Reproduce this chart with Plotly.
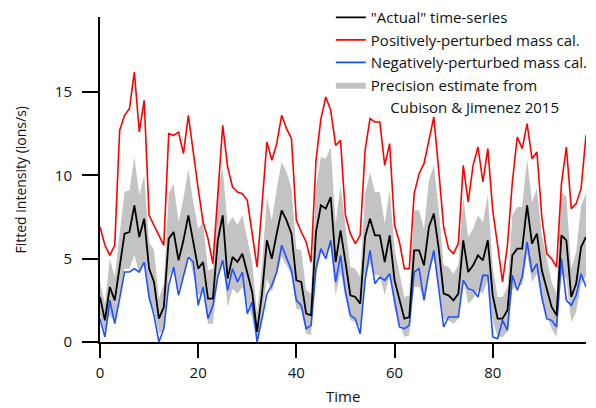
import plotly.graph_objects as go

time = list(range(100))

actual = [2.7, 1.3, 3.3, 2.5, 4.5, 6.5, 6.6, 8.2, 6.3, 7.4,
          4.4, 3.6, 1.4, 2.1, 6.2, 6.6, 4.9, 6.1, 7.6, 5.9,
          4.4, 4.8, 2.6, 2.6, 6.1, 7.6, 3.8, 5.1, 4.8, 5.3,
          4.1, 3.0, 0.6, 2.9, 6.1, 5.0, 6.5, 7.9, 7.3, 6.5,
          3.7, 3.6, 1.7, 1.6, 6.6, 8.2, 8.0, 8.7, 4.8, 6.7,
          4.8, 2.8, 2.7, 2.3, 6.3, 7.4, 6.4, 6.4, 4.8, 6.4,
          3.7, 2.5, 1.4, 1.5, 5.5, 5.5, 4.6, 6.9, 7.7, 5.6,
          2.9, 2.8, 2.5, 2.9, 6.1, 4.2, 4.6, 5.2, 4.9, 6.1,
          2.8, 1.4, 1.4, 1.9, 5.2, 5.6, 5.6, 8.2, 5.9, 6.5,
          4.3, 3.2, 2.1, 1.6, 6.4, 6.1, 2.7, 3.5, 5.7, 6.3]

positive = [6.9, 5.8, 5.2, 5.8, 12.7, 13.6, 14.0, 16.2, 12.6, 14.5,
            7.6, 7.0, 6.4, 5.8, 12.5, 12.4, 12.6, 11.3, 13.6, 11.3,
            9.2, 7.2, 6.2, 4.7, 9.0, 13.0, 10.5, 9.3, 9.0, 8.9,
            8.5, 6.6, 4.5, 8.2, 12.0, 10.9, 11.9, 13.6, 12.8, 12.2,
            7.3, 6.6, 6.0, 4.8, 10.9, 13.4, 14.7, 13.9, 11.8, 12.1,
            7.6, 6.5, 5.9, 6.4, 11.5, 13.4, 13.2, 13.2, 10.6, 11.9,
            7.0, 6.0, 4.4, 4.4, 8.9, 10.1, 10.7, 12.1, 13.5, 10.3,
            6.9, 5.6, 5.3, 5.9, 10.6, 8.4, 10.6, 11.7, 9.6, 11.6,
            7.9, 5.8, 3.6, 5.8, 9.6, 12.3, 11.6, 13.1, 11.0, 11.4,
            7.5, 5.3, 5.0, 4.5, 9.5, 11.7, 8.0, 8.3, 9.2, 12.4]

negative = [1.4, 0.3, 2.5, 1.1, 2.6, 4.2, 4.2, 4.4, 4.2, 4.8,
            2.7, 1.6, 0.0, 0.8, 3.4, 4.5, 2.8, 3.9, 5.1, 4.8,
            2.2, 3.3, 1.4, 2.2, 3.9, 4.9, 3.1, 4.4, 3.6, 4.2,
            1.7, 2.4, 0.0, 1.4, 2.9, 3.4, 4.2, 5.8, 5.1, 4.3,
            2.5, 2.2, 0.8, 1.0, 4.4, 5.6, 5.0, 6.1, 3.6, 5.2,
            3.0, 1.6, 1.4, 0.5, 3.7, 5.5, 3.5, 3.9, 3.7, 4.1,
            2.5, 0.9, 0.8, 1.0, 4.2, 4.4, 2.5, 4.2, 5.5, 3.2,
            0.9, 1.5, 1.5, 1.5, 3.7, 3.2, 3.1, 2.7, 4.0, 4.0,
            0.3, 0.2, 1.3, 0.7, 4.0, 3.1, 3.9, 6.0, 4.2, 4.7,
            2.7, 1.4, 1.3, 0.9, 5.0, 2.5, 2.2, 2.8, 4.1, 3.3]

band_upper = [3.6, 2.3, 5.0, 3.9, 6.5, 9.0, 9.1, 11.1, 8.8, 10.0,
              6.0, 5.5, 2.6, 3.5, 8.9, 9.5, 7.2, 8.6, 10.4, 8.4,
              6.8, 7.2, 4.3, 4.4, 9.3, 10.4, 7.0, 7.5, 7.0, 7.6,
              6.2, 4.8, 1.7, 4.6, 8.7, 7.3, 9.2, 10.8, 10.2, 9.2,
              5.6, 5.5, 3.1, 2.9, 9.3, 11.1, 11.0, 11.7, 7.1, 9.4,
              7.0, 4.5, 4.4, 3.9, 8.9, 10.2, 9.0, 9.0, 7.1, 9.1,
              5.6, 4.1, 2.7, 2.8, 7.9, 7.9, 6.8, 9.7, 10.6, 8.0,
              4.6, 4.5, 4.1, 4.6, 8.7, 6.3, 6.8, 7.6, 7.2, 8.8,
              4.5, 2.7, 2.7, 3.3, 7.6, 8.1, 8.1, 11.0, 8.4, 9.2,
              6.4, 5.0, 3.6, 2.9, 9.0, 8.7, 4.4, 5.4, 8.2, 8.9]

band_lower = [1.6, 0.6, 1.6, 1.2, 2.6, 4.4, 4.4, 5.2, 4.1, 4.9,
              2.4, 1.9, 0.5, 0.7, 3.9, 4.6, 3.1, 4.0, 5.3, 4.1,
              2.8, 3.0, 1.1, 1.1, 3.9, 5.0, 2.1, 3.2, 2.9, 3.3,
              2.3, 1.5, 0.0, 1.4, 3.8, 3.0, 4.1, 5.1, 4.6, 4.0,
              2.0, 1.9, 0.5, 0.4, 4.1, 5.3, 5.2, 5.7, 2.8, 4.2,
              2.8, 1.3, 1.2, 0.9, 3.9, 4.7, 4.0, 4.0, 2.8, 4.0,
              2.0, 1.1, 0.3, 0.4, 3.3, 3.3, 2.6, 4.3, 5.0, 3.4,
              1.4, 1.3, 1.1, 1.4, 3.8, 2.3, 2.6, 3.1, 2.9, 3.8,
              1.3, 0.3, 0.3, 0.6, 3.1, 3.4, 3.4, 5.3, 3.6, 4.1,
              2.4, 1.6, 0.8, 0.3, 4.0, 3.8, 1.2, 1.8, 3.5, 3.9]

x_ticks = [0, 20, 40, 60, 80]
y_ticks = [0, 5, 10, 15]

FONT = "Open Sans"
NB = "\u00a0"
TXT = "#111111"

fig = go.Figure()

fig.add_trace(go.Scatter(
    x=time + time[::-1],
    y=band_upper + band_lower[::-1],
    fill="toself", fillcolor="#c3c3c3",
    mode="lines", line=dict(width=0, color="#c3c3c3"),
    name="Precision estimate from",
    legendrank=4, hoverinfo="skip",
))
# continuation line of the band's legend label (no visible mark)
fig.add_trace(go.Scatter(
    x=[None], y=[None], mode="lines",
    line=dict(width=0, color="rgba(0,0,0,0)"),
    name=NB * 5 + "Cubison & Jimenez 2015", legendrank=5, hoverinfo="skip",
))
fig.add_trace(go.Scatter(
    x=time, y=positive, mode="lines",
    line=dict(color="#ff0000", width=1.6),
    name="Positively-perturbed mass cal.", legendrank=2,
))
fig.add_trace(go.Scatter(
    x=time, y=negative, mode="lines",
    line=dict(color="#1f4fff", width=1.6),
    name="Negatively-perturbed mass cal.", legendrank=3,
))
fig.add_trace(go.Scatter(
    x=time, y=actual, mode="lines",
    line=dict(color="#000000", width=1.8),
    name="\"Actual\" time-series", legendrank=1,
))

axis_common = dict(
    showgrid=False, zeroline=False, showline=True,
    linecolor="#000000", linewidth=2,
    ticks="outside", tickcolor="#000000", tickwidth=2,
    tickfont=dict(family=FONT, size=15, color=TXT),
)

fig.update_xaxes(range=[0, 99], tickmode="array", tickvals=x_ticks,
                 ticklen=14, ticklabelstandoff=2, **axis_common)
fig.update_yaxes(range=[0, 19.5], tickmode="array", tickvals=y_ticks,
                 ticklen=16, ticklabelstandoff=7, **axis_common)

fig.update_layout(
    width=596, height=408,
    margin=dict(l=100, r=10, t=17, b=66, autoexpand=False),
    paper_bgcolor="white", plot_bgcolor="white",
    font=dict(family=FONT, size=15, color=TXT),
    showlegend=True,
    legend=dict(
        x=0.475, y=1.049, xanchor="left", yanchor="top",
        bgcolor="rgba(0,0,0,0)", font=dict(family=FONT, size=15, color=TXT),
        tracegroupgap=0, itemwidth=30,
    ),
    annotations=[
        dict(text="Fitted intensity (ions/s)", textangle=-90,
             xref="paper", yref="paper", x=-0.1646, y=0.5,
             xanchor="center", yanchor="middle", showarrow=False,
             font=dict(family=FONT, size=14, color=TXT)),
        dict(text="Time",
             xref="paper", yref="paper", x=0.5, y=-0.166,
             xanchor="center", yanchor="middle", showarrow=False,
             font=dict(family=FONT, size=15, color=TXT)),
    ],
)

fig.write_html("out.html")
